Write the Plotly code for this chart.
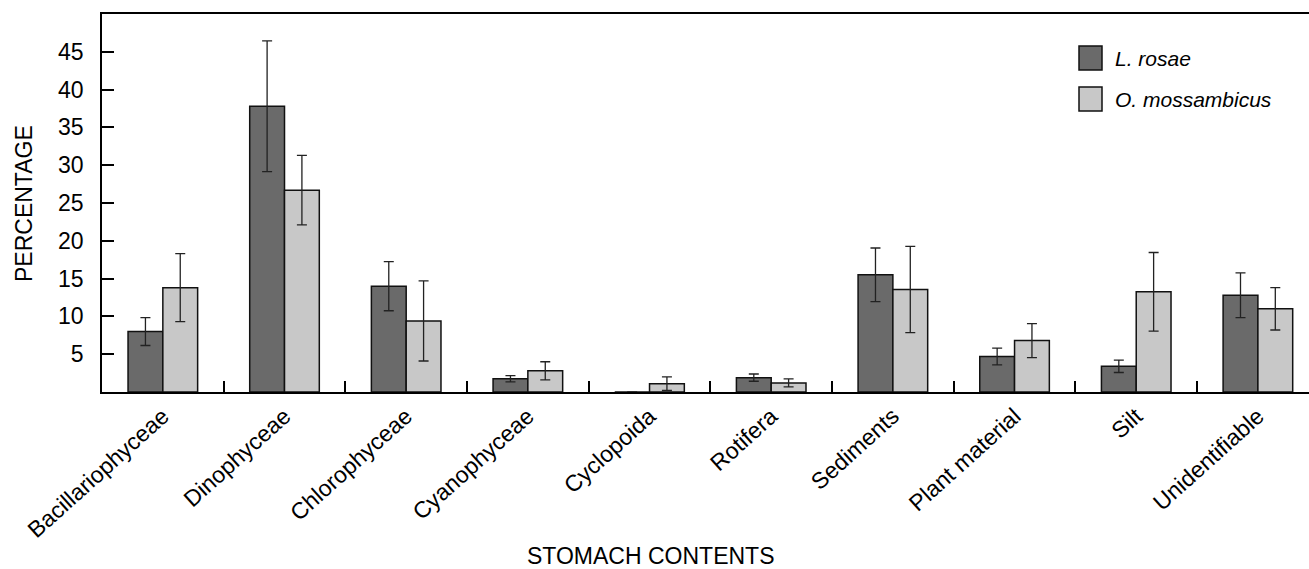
import plotly.graph_objects as go

categories = ["Bacillariophyceae", "Dinophyceae", "Chlorophyceae", "Cyanophyceae",
              "Cyclopoida", "Rotifera", "Sediments", "Plant material", "Silt",
              "Unidentifiable"]
rosae = [8.0, 37.8, 14.0, 1.75, 0.0, 1.9, 15.5, 4.7, 3.4, 12.8]
rosae_err = [1.85, 8.65, 3.25, 0.42, 0.0, 0.48, 3.55, 1.1, 0.82, 2.95]
moss = [13.8, 26.7, 9.4, 2.8, 1.1, 1.2, 13.55, 6.8, 13.25, 11.0]
moss_err = [4.5, 4.6, 5.3, 1.2, 0.9, 0.53, 5.7, 2.25, 5.2, 2.8]
series_names = ["L. rosae", "O. mossambicus"]
y_ticks = [5, 10, 15, 20, 25, 30, 35, 40, 45]

DARK = "#6a6a6a"
LIGHT = "#c8c8c8"
FONT = "Arial, Liberation Sans, sans-serif"

W, H = 1309, 569
ML, MT, MB, MR = 102, 14, 177, 0
PW = W - ML - MR
PH = H - MT - MB


def px_x(x):
    return (x - ML) / PW


def px_y(y):
    return (H - MB - y) / PH


fig = go.Figure()
for name, vals, errs, col in [(series_names[0], rosae, rosae_err, DARK),
                              (series_names[1], moss, moss_err, LIGHT)]:
    fig.add_trace(go.Bar(
        x=categories, y=vals, name=name,
        marker=dict(color=col, line=dict(color="#111111", width=1.5)),
        error_y=dict(type="data", array=errs, visible=True,
                     color="#222222", thickness=1.3, width=5),
        showlegend=False,
    ))

# manual legend (large square swatches)
legend_rows = [(58, DARK, series_names[0]), (99, LIGHT, series_names[1])]
for cy, col, label in legend_rows:
    fig.add_shape(type="rect", xref="paper", yref="paper",
                  x0=px_x(1079), x1=px_x(1102), y0=px_y(cy + 12), y1=px_y(cy - 12),
                  fillcolor=col, line=dict(color="#111111", width=1.5))
    fig.add_annotation(xref="paper", yref="paper", x=px_x(1113), y=px_y(cy),
                       text="<i>%s</i>" % label, showarrow=False,
                       xanchor="left", yanchor="middle",
                       font=dict(family=FONT, size=21, color="black"))

# axis titles
fig.add_annotation(xref="paper", yref="paper", x=px_x(24), y=px_y(204),
                   text="PERCENTAGE", textangle=-90, showarrow=False,
                   xanchor="center", yanchor="middle",
                   font=dict(family=FONT, size=23, color="black"))
fig.add_annotation(xref="paper", yref="paper", x=px_x(650), y=px_y(556),
                   text="STOMACH CONTENTS", showarrow=False,
                   xanchor="center", yanchor="middle",
                   font=dict(family=FONT, size=23, color="black"))

fig.update_layout(
    width=W, height=H,
    margin=dict(l=ML, r=MR, t=MT, b=MB, pad=0),
    paper_bgcolor="white", plot_bgcolor="white",
    barmode="group", bargap=0.428, bargroupgap=0,
    font=dict(family=FONT, size=22, color="black"),
)
fig.update_xaxes(
    type="category", range=[-0.5, 9.42],
    showline=True, linecolor="black", linewidth=1.5, mirror=True,
    ticks="inside", ticklen=11, tickwidth=1.5, tickcolor="black",
    tickson="boundaries", tickangle=-42,
    tickfont=dict(family=FONT, size=23, color="black"),
    showgrid=False, zeroline=False,
)
fig.update_yaxes(
    range=[0, 50], tickvals=y_ticks,
    showline=True, linecolor="black", linewidth=1.5, mirror=False,
    ticks="inside", ticklen=12, tickwidth=1.5, tickcolor="black",
    ticklabelstandoff=12,
    tickfont=dict(family=FONT, size=23, color="black"),
    showgrid=False, zeroline=False,
)

fig.write_html("out.html")
